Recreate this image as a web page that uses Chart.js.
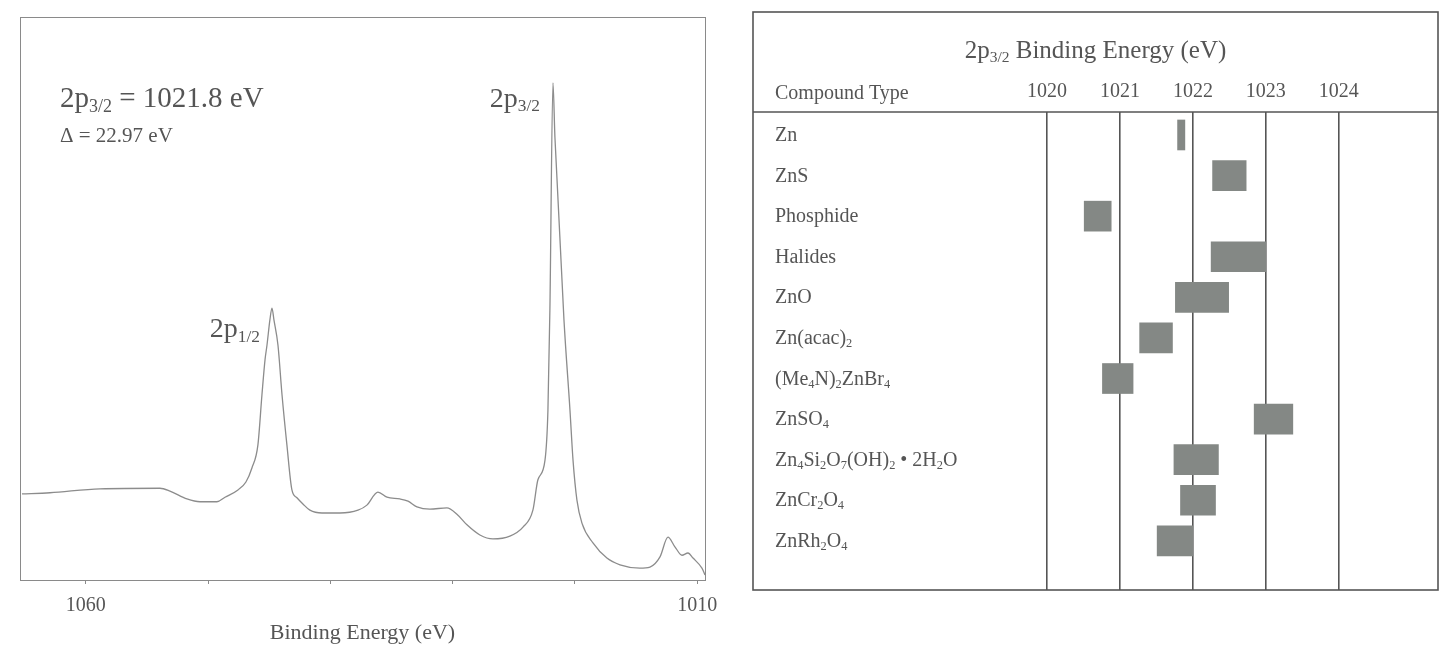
<!DOCTYPE html>
<html>
<head>
<meta charset="utf-8">
<script src="https://cdn.jsdelivr.net/npm/chart.js@4.4.1/dist/chart.umd.min.js"></script>
<style>
  html, body { margin: 0; padding: 0; background: #fff; }
  #wrap { position: relative; width: 1441px; height: 646px; overflow: hidden; background: #fff; }
  #spec { position: absolute; left: 0; top: 0; }
  #table { position: absolute; left: 740px; top: 0; }
</style>
</head>
<body>
<div id="wrap">
  <canvas id="spec" width="730" height="646"></canvas>
  <canvas id="table" width="701" height="646"></canvas>
</div>
<script>
// ---- Zn 2p photoelectron spectrum ----
const energy = [1065.21, 1062.92, 1058.83, 1053.93, 1053.11, 1051.72, 1050.66, 1049.27, 1048.61, 1047.55,
  1046.90, 1046.41, 1045.92, 1045.59, 1045.34, 1045.18, 1044.94, 1044.77, 1044.61, 1044.28,
  1043.95, 1043.55, 1043.14, 1042.73, 1042.24, 1041.67, 1040.68, 1039.21, 1037.74, 1037.01,
  1036.11, 1035.37, 1034.31, 1033.65, 1032.92, 1031.86, 1030.47, 1029.65, 1028.83, 1027.77,
  1026.71, 1025.32, 1024.25, 1023.44, 1023.03, 1022.45, 1022.21, 1022.05, 1021.80, 1021.64,
  1020.90, 1020.41, 1020.16, 1019.84, 1019.43, 1018.53, 1017.39, 1016.32, 1014.69, 1013.87,
  1013.05, 1012.40, 1011.83, 1011.25, 1010.76, 1010.35, 1009.62, 1009.37];
const intensity = [15.3, 15.5, 16.2, 16.3, 15.8, 14.4, 13.9, 13.9, 14.7, 16.0,
  17.4, 19.9, 24.0, 32.9, 39.1, 41.7, 46.2, 48.3, 46.2, 41.7,
  32.9, 24.0, 16.0, 14.6, 13.5, 12.4, 11.9, 11.9, 12.4, 13.3,
  15.6, 14.7, 14.4, 14.0, 13.0, 12.6, 12.8, 11.7, 9.8, 8.0,
  7.3, 7.8, 9.4, 12.4, 17.8, 21.3, 30.2, 48.0, 88.3, 78.7,
  46.2, 30.2, 21.3, 14.2, 10.1, 6.6, 3.9, 2.7, 2.1, 2.3,
  4.1, 7.6, 5.9, 4.4, 4.8, 3.9, 2.1, 0.9];
const peak32 = 1021.8;     // 2p3/2 position, eV
const splitting = 22.97;   // spin-orbit splitting, eV
const peak12 = 1044.77;    // 2p1/2 position, eV
const energyTicks = [1060, 1050, 1040, 1030, 1020, 1010];
const energyTickLabels = [1060, 1010];

// ---- 2p3/2 binding energy ranges by compound type ----
const compounds = ['Zn', 'ZnS', 'Phosphide', 'Halides', 'ZnO', 'Zn(acac)_{2}', '(Me_{4}N)_{2}ZnBr_{4}',
  'ZnSO_{4}', 'Zn_{4}Si_{2}O_{7}(OH)_{2} \u2022 2H_{2}O', 'ZnCr_{2}O_{4}', 'ZnRh_{2}O_{4}'];
const rangeLow  = [1021.79, 1022.27, 1020.51, 1022.25, 1021.76, 1021.27, 1020.76, 1022.84, 1021.74, 1021.83, 1021.51];
const rangeHigh = [1021.89, 1022.73, 1020.88, 1023.00, 1022.49, 1021.72, 1021.18, 1023.37, 1022.35, 1022.31, 1022.00];
const tableTicks = [1020, 1021, 1022, 1023, 1024];

const SERIF = '"Liberation Serif", "DejaVu Serif", serif';
const TEXT = '#555';

// text with _{...} subscripts
function parseRich(s) {
  const parts = []; const re = /_\{([^}]*)\}/g; let last = 0, m;
  while ((m = re.exec(s))) {
    if (m.index > last) parts.push([s.slice(last, m.index), false]);
    parts.push([m[1], true]); last = re.lastIndex;
  }
  if (last < s.length) parts.push([s.slice(last), false]);
  return parts;
}
function drawRich(ctx, s, x, y, size, align, color) {
  const parts = parseRich(s); const sub = size * 0.62;
  let w = 0;
  for (const p of parts) { ctx.font = (p[1] ? sub : size) + 'px ' + SERIF; w += ctx.measureText(p[0]).width; }
  let cx = align === 'right' ? x - w : align === 'center' ? x - w / 2 : x;
  ctx.save();
  ctx.fillStyle = color || TEXT; ctx.textAlign = 'left'; ctx.textBaseline = 'alphabetic';
  for (const p of parts) {
    ctx.font = (p[1] ? sub : size) + 'px ' + SERIF;
    ctx.fillText(p[0], cx, y + (p[1] ? size * 0.16 : 0));
    cx += ctx.measureText(p[0]).width;
  }
  ctx.restore();
}

// ---- left: spectrum ----
const specDecor = {
  id: 'specDecor',
  beforeDatasetsDraw(chart) {
    const { ctx, chartArea: a } = chart;
    ctx.save();
    ctx.strokeStyle = '#8a8a8a'; ctx.lineWidth = 1;
    ctx.strokeRect(a.left + 0.5, a.top + 0.5, a.right - a.left, a.bottom - a.top);
    ctx.restore();
  },
  afterDatasetsDraw(chart) {
    const { ctx, chartArea: a, scales: { x, y } } = chart;
    drawRich(ctx, '2p_{3/2} = ' + peak32 + ' eV', a.left + 40, a.top + 90, 29, 'left');
    drawRich(ctx, '\u0394 = ' + splitting + ' eV', a.left + 40, a.top + 125, 21, 'left');
    const i32 = energy.indexOf(peak32), i12 = energy.indexOf(peak12);
    drawRich(ctx, '2p_{3/2}', x.getPixelForValue(peak32) - 13, y.getPixelForValue(intensity[i32]) + 24, 28, 'right');
    drawRich(ctx, '2p_{1/2}', x.getPixelForValue(peak12) - 12, y.getPixelForValue(intensity[i12]) + 29, 28, 'right');
  }
};

new Chart(document.getElementById('spec'), {
  type: 'line',
  data: {
    datasets: [{
      data: energy.map((e, i) => ({ x: e, y: intensity[i] })),
      borderColor: '#8c8c8c', borderWidth: 1.3, pointRadius: 0,
      cubicInterpolationMode: 'monotone', fill: false
    }]
  },
  options: {
    responsive: false, devicePixelRatio: 1, animation: false,
    layout: { padding: { left: 20, right: 25, top: 17, bottom: 0 } },
    plugins: { legend: { display: false }, tooltip: { enabled: false } },
    scales: {
      x: {
        type: 'linear', reverse: true, min: 1009.37, max: 1065.37,
        afterBuildTicks: s => { s.ticks = energyTicks.map(v => ({ value: v })); },
        afterFit: s => { s.height = 66; },
        border: { display: false },
        grid: { drawOnChartArea: false, drawTicks: true, tickLength: 4, color: '#8a8a8a' },
        ticks: {
          autoSkip: false, maxRotation: 0, padding: 10, color: TEXT,
          font: { family: SERIF, size: 20 },
          callback: v => energyTickLabels.includes(v) ? String(v) : ''
        },
        title: { display: true, text: 'Binding Energy (eV)', color: TEXT, padding: 0,
          font: { family: SERIF, size: 22 } }
      },
      y: { type: 'linear', min: 0, max: 100, display: false }
    }
  },
  plugins: [specDecor]
});

// ---- right: binding energy table ----
const tableDecor = {
  id: 'tableDecor',
  beforeDraw(chart) {
    const { ctx, chartArea: a } = chart;
    ctx.save();
    ctx.strokeStyle = '#555'; ctx.lineWidth = 1.6;
    ctx.strokeRect(13, 12, a.right - 13, a.bottom - 12);
    ctx.beginPath(); ctx.moveTo(13, a.top); ctx.lineTo(a.right, a.top); ctx.stroke();
    ctx.restore();
  },
  afterDraw(chart) {
    const { ctx, chartArea: a, scales: { y } } = chart;
    drawRich(ctx, '2p_{3/2} Binding Energy (eV)', (13 + a.right) / 2, 58, 25, 'center');
    drawRich(ctx, 'Compound Type', 35, 99, 20, 'left');
    compounds.forEach((c, i) => {
      drawRich(ctx, c, 35, y.getPixelForValue(i) + 6, 20, 'left');
    });
  }
};

new Chart(document.getElementById('table'), {
  type: 'bar',
  data: {
    datasets: [{
      data: compounds.map((c, i) => ({ x: [rangeLow[i], rangeHigh[i]], y: i })),
      backgroundColor: '#848885', borderWidth: 0, barThickness: 30
    }]
  },
  options: {
    indexAxis: 'y',
    responsive: false, devicePixelRatio: 1, animation: false,
    layout: { padding: { left: 307, right: 3, top: 0, bottom: 56 } },
    plugins: { legend: { display: false }, tooltip: { enabled: false } },
    scales: {
      x: {
        type: 'linear', position: 'top', min: 1020, max: 1025.36,
        afterBuildTicks: s => { s.ticks = tableTicks.map(v => ({ value: v })); },
        afterFit: s => { s.height = 112; },
        border: { display: false },
        grid: { drawOnChartArea: true, drawTicks: false, color: '#555', lineWidth: 1.6 },
        ticks: { padding: 8, color: TEXT, font: { family: SERIF, size: 20 }, maxRotation: 0, autoSkip: false,
          callback: v => String(v) }
      },
      y: { type: 'linear', reverse: true, offset: false, min: -0.566, max: 11.21, display: false }
    }
  },
  plugins: [tableDecor]
});
</script>
</body>
</html>
